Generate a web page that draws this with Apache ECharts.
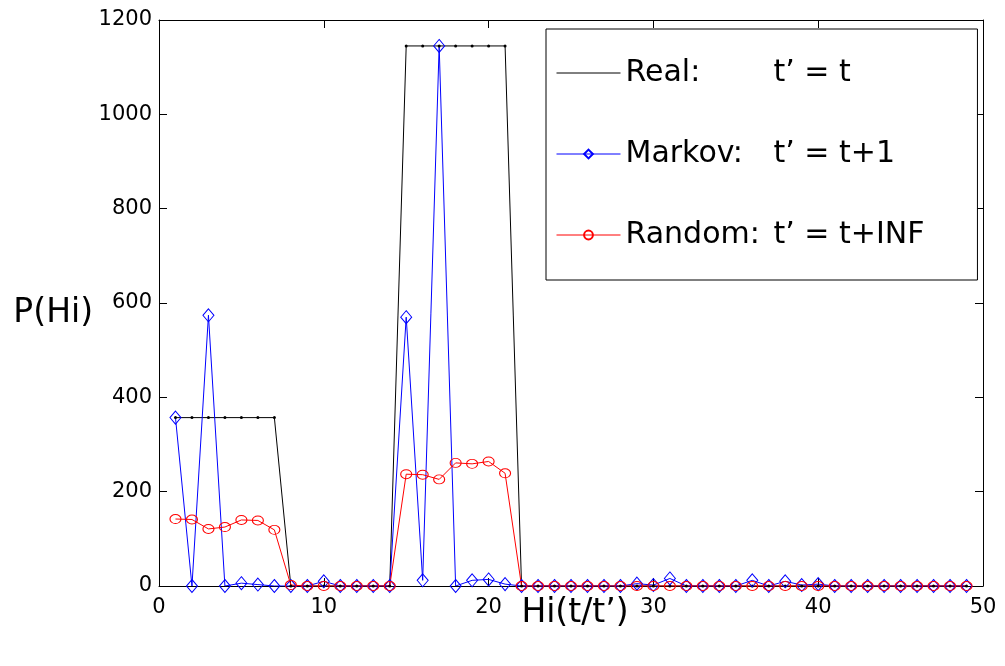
<!DOCTYPE html>
<html>
<head>
<meta charset="utf-8">
<script src="https://cdn.jsdelivr.net/npm/echarts@6/dist/echarts.min.js"></script>
<style>html,body{margin:0;padding:0;background:#fff;}#c{width:1005px;height:666px;}</style>
</head>
<body>
<div id="c"></div>
<script>
const xValues = [1,2,3,4,5,6,7,8,9,10,11,12,13,14,15,16,17,18,19,20,21,22,23,24,25,26,27,28,29,30,31,32,33,34,35,36,37,38,39,40,41,42,43,44,45,46,47,48,49];
const realVals = [357,357,357,357,357,357,357,0,0,0,0,0,0,0,1145,1145,1145,1145,1145,1145,1145,0,0,0,0,0,0,0,0,0,0,0,0,0,0,0,0,0,0,0,0,0,0,0,0,0,0,0,0];
const markovVals = [357,0,574,0,6,3,0,0,0,10,0,0,0,0,570,12,1145,0,12,14,4,0,0,0,0,0,0,0,5,2,16,0,0,0,0,12,0,10,2,4,0,0,0,0,0,0,0,0,0];
const randomVals = [142,141,121,125,140,139,119,2,0,0,0,0,0,0,237,236,226,261,259,264,239,0,0,0,0,0,0,0,0,0,0,0,0,0,0,0,0,0,0,0,0,0,0,0,0,0,0,0,0];
const seriesNames = ['Real','Markov','Random'];
const legendLeft = ['Real:','Markov:','Random:'];
const legendRight = ['t\u2019 = t','t\u2019 = t+1','t\u2019 = t+INF'];
const yTicks = [0,200,400,600,800,1000,1200];
const xTicks = [0,10,20,30,40,50];
const yName = 'P(Hi)';
const xName = 'Hi(t/t\u2019)';

const FONT = 'DejaVu Sans';
const pairs = vals => vals.map((v,i)=>[xValues[i], v]);
const axisLine = {show:true, onZero:false, lineStyle:{color:'#000', width:1}};
const axisTick = {show:true, inside:true, length:8, lineStyle:{color:'#000', width:1}};

const chart = echarts.init(document.getElementById('c'), null, {renderer:'canvas'});
chart.setOption({
  animation:false,
  backgroundColor:'#fff',
  grid:{left:159, top:20, right:22, bottom:80, containLabel:false},
  xAxis:[{
    type:'value', min:xTicks[0], max:xTicks[xTicks.length-1], interval:10, position:'bottom',
    axisLine, axisTick, splitLine:{show:false},
    axisLabel:{color:'#000', fontFamily:FONT, fontSize:21, margin:11, formatter: v => String(v)},
    name:xName, nameLocation:'middle', nameGap:27, nameMoveOverlap:false,
    nameTextStyle:{color:'#000', fontFamily:FONT, fontSize:33, verticalAlign:'middle', padding:[0,0,0,8]}
  },{
    type:'value', min:xTicks[0], max:xTicks[xTicks.length-1], interval:10, position:'top',
    axisLine, axisTick, splitLine:{show:false}, axisLabel:{show:false}
  }],
  yAxis:[{
    type:'value', min:yTicks[0], max:yTicks[yTicks.length-1], interval:200, position:'left',
    axisLine, axisTick, splitLine:{show:false},
    axisLabel:{color:'#000', fontFamily:FONT, fontSize:21, margin:7, formatter: v => String(v)},
    name:'{p|' + yName + '}', nameLocation:'middle', nameRotate:0, nameGap:66, nameMoveOverlap:false,
    nameTextStyle:{color:'#000', fontFamily:FONT, fontSize:33, align:'right', verticalAlign:'middle',
      rich:{p:{color:'#000', fontFamily:FONT, fontSize:33, padding:[20,0,0,0]}}}
  },{
    type:'value', min:yTicks[0], max:yTicks[yTicks.length-1], interval:200, position:'right',
    axisLine, axisTick, splitLine:{show:false}, axisLabel:{show:false}
  }],
  legend:{
    orient:'vertical', left:546, top:29, padding:[29,53,30,10], itemGap:51,
    itemWidth:64, itemHeight:11,
    borderColor:'#000', borderWidth:1, backgroundColor:'#fff',
    data:[
      {name:'Real', itemStyle:{color:'rgba(0,0,0,0)', borderColor:'rgba(0,0,0,0)'}},
      {name:'Markov'},
      {name:'Random'}
    ],
    lineStyle:{width:1},
    formatter: name => {
      const i = seriesNames.indexOf(name);
      return '{a|' + legendLeft[i] + '}{b|' + legendRight[i] + '}';
    },
    textStyle:{
      color:'#000', fontFamily:FONT, fontSize:30,
      rich:{
        a:{width:148, color:'#000', fontFamily:FONT, fontSize:30, lineHeight:30},
        b:{color:'#000', fontFamily:FONT, fontSize:30, lineHeight:30}
      }
    }
  },
  series:[
    {
      name:'Real', type:'line', data:pairs(realVals),
      symbol:'circle', symbolSize:3, showSymbol:true, showAllSymbol:true,
      itemStyle:{color:'#000'}, lineStyle:{color:'#000', width:1}
    },
    {
      name:'Markov', type:'line', data:pairs(markovVals),
      symbol:'diamond', symbolSize:[11,13], showSymbol:true, showAllSymbol:true,
      itemStyle:{color:'rgba(0,0,0,0)', borderColor:'#0000ff', borderWidth:1},
      lineStyle:{color:'#0000ff', width:1}
    },
    {
      name:'Random', type:'line', data:pairs(randomVals),
      symbol:'circle', symbolSize:[11,9], showSymbol:true, showAllSymbol:true,
      itemStyle:{color:'rgba(0,0,0,0)', borderColor:'#ff0000', borderWidth:1},
      lineStyle:{color:'#ff0000', width:1}
    }
  ]
});
</script>
</body>
</html>
